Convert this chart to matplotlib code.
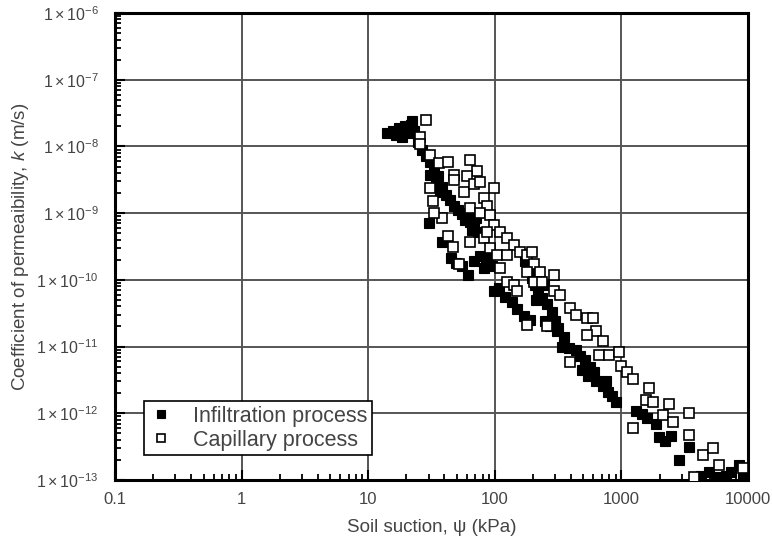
import matplotlib
matplotlib.use("Agg")
import matplotlib.pyplot as plt
from matplotlib.ticker import FixedLocator, LogLocator, NullFormatter

plt.rcParams['font.family'] = ['Liberation Sans', 'DejaVu Sans']
plt.rcParams['mathtext.fontset'] = 'custom'
plt.rcParams['mathtext.rm'] = 'Liberation Sans'
plt.rcParams['mathtext.it'] = 'Liberation Sans:italic'

# Infiltration process (filled squares): suction (kPa), k (m/s)
infil_suction = [14.1, 15.7, 17.5, 19.6, 21.8, 23, 18.5, 20.7, 16.6, 22,
                 24.8, 26.6, 28.6, 30.9, 33, 31, 35.6, 34, 38, 37, 41, 44, 48, 51, 55, 60, 58, 64, 68, 71, 66, 73,
                 30, 38, 45, 55, 61, 68, 76, 85, 95, 88, 82, 49,
                 99, 107, 120, 136, 150, 170, 190,
                 172, 185, 196, 207, 218, 234, 257, 281, 297, 313, 243, 210,
                 248, 271, 308, 350, 337, 382, 434, 467, 511, 560, 484, 540, 602, 626, 721, 780, 840, 900, 750,
                 1300, 1440, 1600, 1890, 1990, 2220, 2480, 3430, 2860, 4930, 8500,
                 4270, 5600, 6700, 9100, 7340]
infil_k = [1.6e-8, 1.7e-8, 1.9e-8, 2.0e-8, 2.1e-8, 1.7e-8, 1.4e-8, 1.6e-8, 1.5e-8, 2.4e-8,
           1.15e-8, 8.8e-9, 7.1e-9, 5.8e-9, 4.7e-9, 3.7e-9, 3.6e-9, 2.7e-9, 2.5e-9, 2.1e-9, 1.9e-9, 1.6e-9,
           1.3e-9, 1.1e-9, 9.7e-10, 1.0e-9, 7.9e-10, 7.4e-10, 6.4e-10, 8.4e-10, 5.6e-10, 5.2e-10,
           7.1e-10, 3.7e-10, 2.1e-10, 1.6e-10, 1.2e-10, 1.9e-10, 2.3e-10, 1.9e-10, 1.6e-10, 2.3e-10, 1.5e-10, 1.8e-10,
           6.7e-11, 7.6e-11, 5.6e-11, 4.6e-11, 3.6e-11, 2.9e-11, 2.5e-11,
           1.9e-10, 1.4e-10, 1.07e-10, 8.5e-11, 6.7e-11, 5.4e-11, 4.4e-11, 3.3e-11, 2.4e-11, 1.9e-11, 8.5e-11, 5.0e-11,
           2.4e-11, 2.0e-11, 1.7e-11, 1.4e-11, 1.0e-11, 9.4e-12, 8.8e-12, 7.1e-12, 6.2e-12, 5.0e-12, 4.4e-12,
           3.6e-12, 4.1e-12, 3.1e-12, 2.6e-12, 2.1e-12, 1.8e-12, 1.5e-12, 3.1e-12,
           1.1e-12, 9.7e-13, 8.5e-13, 6.9e-13, 4.4e-13, 3.8e-13, 4.6e-13, 3.1e-13, 2.0e-13, 1.3e-13, 1.7e-13,
           1.15e-13, 1.1e-13, 1.15e-13, 1.2e-13, 1.3e-13]

# Capillary process (open squares)
cap_suction = [28.6, 25.7, 25.7, 31, 36, 43, 48, 64, 72, 60, 31, 57, 68, 32.5, 38, 43, 47, 52, 64, 48,
               76, 99, 82, 87, 64, 76, 91, 99, 110, 124, 141, 157, 179, 203, 226, 292, 292, 82, 91, 104,
               110, 124, 141, 179, 203, 87, 124, 196, 234, 149, 325, 390, 441, 530, 600, 635, 530, 720,
               670, 804, 964, 1000, 1100, 1240, 390, 257, 179, 1660, 1570, 1790, 2390, 2140, 2570, 3430,
               1240, 3430, 4420, 5300, 5900, 9100, 3760, 33]
cap_k = [2.5e-8, 1.4e-8, 1.07e-8, 7.4e-9, 5.6e-9, 5.8e-9, 3.7e-9, 6.2e-9, 4.3e-9, 3.6e-9, 2.4e-9, 2.1e-9,
         2.7e-9, 1.5e-9, 8.5e-10, 4.6e-10, 3.1e-10, 1.7e-10, 3.7e-10, 3.1e-9, 2.9e-9, 2.4e-9, 1.7e-9, 1.3e-9,
         1.2e-9, 1.0e-9, 9.4e-10, 6.7e-10, 5.2e-10, 4.3e-10, 3.3e-10, 2.6e-10, 2.4e-10, 1.7e-10, 1.3e-10,
         1.2e-10, 6.7e-11, 4.3e-10, 3.0e-10, 2.4e-10, 1.5e-10, 9.4e-11, 8.5e-11, 1.3e-10, 9.4e-11, 5.2e-10,
         2.4e-10, 2.6e-10, 9.4e-11, 6.7e-11, 6.0e-11, 3.8e-11, 3.0e-11, 2.7e-11, 2.7e-11, 1.7e-11, 1.5e-11,
         1.2e-11, 7.4e-12, 7.4e-12, 8.2e-12, 5.2e-12, 4.1e-12, 3.3e-12, 5.8e-12, 2.0e-11, 2.1e-11, 2.4e-12,
         1.56e-12, 1.5e-12, 1.4e-12, 9.4e-13, 7.4e-13, 1.0e-12, 6.0e-13, 4.7e-13, 2.4e-13, 3.0e-13, 1.7e-13,
         1.5e-13, 1.1e-13, 1.0e-9]

x_ticks = [0.1, 1, 10, 100, 1000, 10000]
x_labels = ['0.1', '1', '10', '100', '1000', '10000']
y_ticks = [1e-13, 1e-12, 1e-11, 1e-10, 1e-9, 1e-8, 1e-7, 1e-6]
y_labels = [r'$1\times10^{-13}$', r'$1\times10^{-12}$', r'$1\times10^{-11}$', r'$1\times10^{-10}$',
            r'$1\times10^{-9}$', r'$1\times10^{-8}$', r'$1\times10^{-7}$', r'$1\times10^{-6}$']

fig = plt.figure(figsize=(7.72, 5.5), dpi=100)
ax = fig.add_axes([0.149, 0.1273, 0.820, 0.849])
ax.set_xscale('log')
ax.set_yscale('log')
ax.set_xlim(0.1, 10000)
ax.set_ylim(1e-13, 1e-6)

ax.grid(True, which='major', color='#555555', lw=1.4, zorder=0)
ax.set_axisbelow(True)

ax.plot(infil_suction, infil_k, 's', ms=7, mfc='black', mec='black', mew=0.8,
        label='Infiltration process', zorder=3, clip_on=True)
ax.plot(cap_suction, cap_k, 's', ms=7, mfc='white', mec='black', mew=1.2,
        label='Capillary process', zorder=4, clip_on=True)

ax.xaxis.set_major_locator(FixedLocator(x_ticks))
ax.set_xticklabels(x_labels)
ax.yaxis.set_major_locator(FixedLocator(y_ticks))
ax.set_yticklabels(y_labels)
ax.xaxis.set_minor_locator(LogLocator(base=10, subs=range(2, 10), numticks=20))
ax.yaxis.set_minor_locator(LogLocator(base=10, subs=range(2, 10), numticks=20))
ax.xaxis.set_minor_formatter(NullFormatter())
ax.yaxis.set_minor_formatter(NullFormatter())
ax.tick_params(which='major', direction='in', length=7, width=1.5, labelsize=12,
               labelcolor='#444444', pad=9)
ax.tick_params(which='minor', direction='in', length=4, width=1.3)
ax.tick_params(axis='y', which='major', labelsize=11.5, pad=12)

for s in ax.spines.values():
    s.set_linewidth(2.2)

ax.set_xlabel('Soil suction, ψ (kPa)', fontsize=13.5, color='#444444', labelpad=8)
ax.set_ylabel('Coefficient of permeaibility, $\\it{k}$ (m/s)', fontsize=13.5, color='#444444', labelpad=4)

leg = ax.legend(loc='lower left', bbox_to_anchor=(0.028, 0.03), fontsize=15.5, frameon=True,
                fancybox=False, edgecolor='black', framealpha=1, markerscale=0.75,
                handlelength=1.2, handletextpad=0.9, borderpad=0.2, labelspacing=0.15)
leg.get_frame().set_linewidth(1.2)
for t in leg.get_texts():
    t.set_color('#444444')

fig.savefig('out.png', dpi=100)
